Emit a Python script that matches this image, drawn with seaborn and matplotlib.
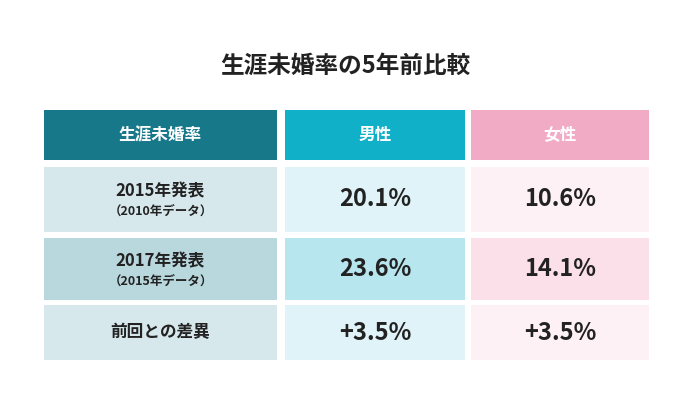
import matplotlib
matplotlib.use("Agg")
import matplotlib.pyplot as plt
import seaborn as sns
from matplotlib.patches import Rectangle

sns.set_theme(style="white")
plt.rcParams["font.family"] = "Noto Sans CJK JP"

title = "生涯未婚率の5年前比較"
headers = ["生涯未婚率", "男性", "女性"]
row_labels = ["2015年発表", "2017年発表", "前回との差異"]
row_sub = ["（2010年データ）", "（2015年データ）", ""]
male = ["20.1%", "23.6%", "+3.5%"]
female = ["10.6%", "14.1%", "+3.5%"]

col_x = [(44, 277), (285, 465), (471, 649)]
row_y = [(110, 160), (167, 232), (238, 300), (305, 360)]
head_colors = ["#17788a", "#0fb0c8", "#f1abc4"]
body_colors = [["#d7e8ed", "#b9d8de", "#d7e8ed"],
               ["#dff3f8", "#b7e6ef", "#dff3f8"],
               ["#fdf1f6", "#fbdfe9", "#fdf1f6"]]

fig = plt.figure(figsize=(6.9, 4.09), dpi=100)
ax = fig.add_axes([0, 0, 1, 1])
ax.set_xlim(0, 690)
ax.set_ylim(409, 0)
ax.axis("off")

ax.text(345, 66, title, ha="center", va="center", fontsize=17, fontweight="bold", color="#222222")

for c, (x0, x1) in enumerate(col_x):
    y0, y1 = row_y[0]
    ax.add_patch(Rectangle((x0, y0), x1 - x0, y1 - y0, color=head_colors[c], lw=0))
    ax.text((x0 + x1) / 2, (y0 + y1) / 2, headers[c], ha="center", va="center",
            fontsize=12, fontweight="bold", color="white")
    for r in range(3):
        ry0, ry1 = row_y[r + 1]
        ax.add_patch(Rectangle((x0, ry0), x1 - x0, ry1 - ry0, color=body_colors[c][r], lw=0))
        cx, cy = (x0 + x1) / 2, (ry0 + ry1) / 2
        if c == 0:
            if row_sub[r]:
                ax.text(cx, cy - 8, row_labels[r], ha="center", va="center", fontsize=12,
                        fontweight="bold", color="#222222")
                ax.text(cx, cy + 12, row_sub[r], ha="center", va="center", fontsize=9,
                        fontweight="bold", color="#222222")
            else:
                ax.text(cx, cy, row_labels[r], ha="center", va="center", fontsize=12,
                        fontweight="bold", color="#222222")
        else:
            val = male[r] if c == 1 else female[r]
            ax.text(cx, cy, val, ha="center", va="center", fontsize=17,
                    fontweight="bold", color="#222222")

fig.savefig("out.png", dpi=100, facecolor="white")
